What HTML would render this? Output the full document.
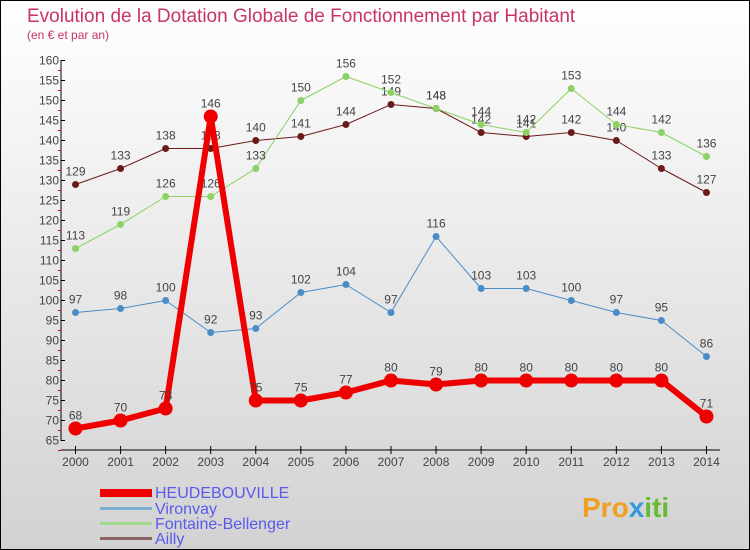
<!DOCTYPE html>
<html><head><meta charset="utf-8"><style>
body{margin:0}
#c{width:750px;height:550px;position:relative;overflow:hidden;font-family:"Liberation Sans",sans-serif}
</style></head><body>
<div id="c">
<svg id="s" width="750" height="550" xmlns="http://www.w3.org/2000/svg">
<defs><linearGradient id="bg" x1="0" y1="0" x2="0" y2="1"><stop offset="0" stop-color="#ffffff"/><stop offset="1" stop-color="#d2d2d2"/></linearGradient></defs>
<rect x="0.5" y="0.5" width="749" height="549" fill="url(#bg)" stroke="#000"/>
<text x="27" y="22" font-size="19" fill="#c8336a">Evolution de la Dotation Globale de Fonctionnement par Habitant</text>
<text x="27" y="39" font-size="12" fill="#c8336a">(en € et par an)</text>
<g id="axes"></g><g id="series"></g>
<g>
<rect x="100" y="489" width="52" height="8" fill="#e00"/>
<text x="155" y="498" font-size="16" fill="#5a5aee">HEUDEBOUVILLE</text>
<rect x="100" y="507" width="52" height="3" fill="#7aaed0"/>
<text x="155" y="514" font-size="16" fill="#5a5aee">Vironvay</text>
<rect x="100" y="522" width="52" height="3" fill="#9fd88a"/>
<text x="155" y="529" font-size="16" fill="#5a5aee">Fontaine-Bellenger</text>
<rect x="100" y="537" width="52" height="3" fill="#8c6464"/>
<text x="155" y="544" font-size="16" fill="#5a5aee">Ailly</text>
</g>
<text x="582" y="517" font-size="28" font-weight="bold" fill="#f0a020">Pro<tspan fill="#3399dd">x</tspan><tspan fill="#66bb33">iti</tspan></text>
</svg>
</div>
<script>
const years=[2000,2001,2002,2003,2004,2005,2006,2007,2008,2009,2010,2011,2012,2013,2014];
const yTicks=[65,70,75,80,85,90,95,100,105,110,115,120,125,130,135,140,145,150,155,160];
const heudebouville=[68,70,73,146,75,75,77,80,79,80,80,80,80,80,71];
const vironvay=[97,98,100,92,93,102,104,97,116,103,103,100,97,95,86];
const fontaine=[113,119,126,126,133,150,156,152,148,144,142,153,144,142,136];
const ailly=[129,133,138,138,140,141,144,149,148,142,141,142,140,133,127];
const NS="http://www.w3.org/2000/svg";
const xS=i=>75.5+i*45.07;
const yS=v=>60.5+(160-v)*4;
function mk(t,a,p){const e=document.createElementNS(NS,t);for(const k in a)e.setAttribute(k,a[k]);p.appendChild(e);return e;}
const ax=document.getElementById('axes');
const yl=mk('line',{x1:61,y1:60,x2:61,y2:441,stroke:'#000'},ax);


yTicks.forEach(v=>{
 const t=mk('line',{x1:61,x2:65,y1:yS(v),y2:yS(v),stroke:'#000'},ax);
 
 
 const m=mk('line',{x1:58,x2:61,y1:yS(v-2.5),y2:yS(v-2.5),stroke:'#e00'},ax);
 
 
 const l=mk('text',{x:59,y:yS(v)+4,'text-anchor':'end','font-size':12,fill:'#444'},ax);
 l.textContent=v;
 
 
});
const xl=mk('line',{x1:61,y1:450,x2:720,y2:450,stroke:'#000'},ax);


years.forEach((y,i)=>{
 const t=mk('line',{x1:xS(i),x2:xS(i),y1:446,y2:454,stroke:'#000'},ax);
 
 
 const l=mk('text',{x:xS(i),y:466,'text-anchor':'middle','font-size':12,fill:'#444'},ax);
 l.textContent=y;
 
 
});
const sg=document.getElementById('series');
function draw(name,data,color,w,r){
 const g=mk('g',{},sg);
 
 
 const p=mk('polyline',{points:data.map((v,i)=>xS(i)+','+yS(v)).join(' '),fill:'none',stroke:color,'stroke-width':w,'stroke-linejoin':'round'},g);
 
 
 data.forEach((v,i)=>{
  const c=mk('circle',{cx:xS(i),cy:yS(v),r:r,fill:color},g);
  
  
  const l=mk('text',{x:xS(i),y:yS(v)-9,'text-anchor':'middle','font-size':12,fill:'#444'},g);
  l.textContent=v;
  
  
 });
}
draw('ailly',ailly,'#6b1a1a',1,3.5);
draw('fontaine-bellenger',fontaine,'#8cd264',1,3.5);
draw('vironvay',vironvay,'#4a8cc8',1,3.5);
draw('heudebouville',heudebouville,'#ee0000',6,7);
</script>
</body></html>
